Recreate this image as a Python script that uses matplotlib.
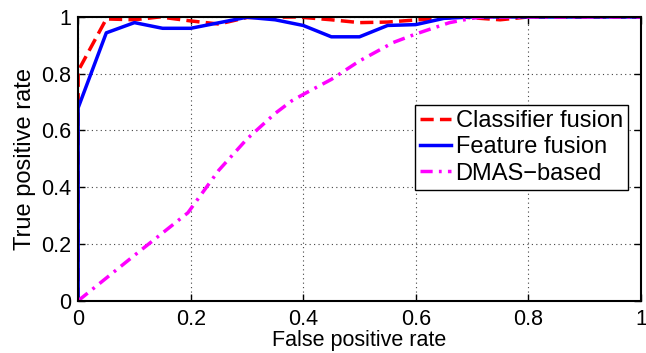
import matplotlib
matplotlib.use("Agg")
import matplotlib.pyplot as plt

# ROC curves
fpr_cls = [0, 0, 0.05, 0.10, 0.145, 0.20, 0.25, 0.30, 0.39, 0.45, 0.50, 0.55, 0.605, 0.68, 0.75, 0.80, 1.0]
tpr_cls = [0, 0.81, 0.993, 0.99, 1.0, 0.986, 0.975, 0.998, 1.0, 0.99, 0.98, 0.982, 0.99, 1.0, 0.99, 1.0, 1.0]

fpr_feat = [0, 0, 0.05, 0.10, 0.15, 0.20, 0.30, 0.35, 0.40, 0.45, 0.50, 0.55, 0.60, 0.65, 0.70, 1.0]
tpr_feat = [0, 0.68, 0.944, 0.98, 0.96, 0.96, 0.999, 0.99, 0.97, 0.93, 0.93, 0.97, 0.973, 0.995, 1.0, 1.0]

fpr_dmas = [0, 0.10, 0.195, 0.25, 0.30, 0.35, 0.38, 0.40, 0.45, 0.50, 0.56, 0.60, 0.66, 0.70, 0.72, 1.0]
tpr_dmas = [0, 0.16, 0.31, 0.46, 0.57, 0.66, 0.705, 0.727, 0.78, 0.845, 0.91, 0.94, 0.98, 0.995, 1.0, 1.0]

ticks = [0, 0.2, 0.4, 0.6, 0.8, 1]
tick_labels = ["0", "0.2", "0.4", "0.6", "0.8", "1"]

plt.rcParams["font.family"] = ["Liberation Sans", "DejaVu Sans"]

fig = plt.figure(figsize=(6.46, 3.53), dpi=100)
ax = fig.add_axes([0.121, 0.148, 0.871, 0.804])

ax.plot(fpr_cls, tpr_cls, color="red", ls=(0, (3.8, 1.8)), lw=2.5, label="Classifier fusion")
ax.plot(fpr_feat, tpr_feat, color="blue", lw=2.5, label="Feature fusion")
ax.plot(fpr_dmas, tpr_dmas, color="magenta", ls=(0, (3.5, 1.8, 0.8, 1.8)), lw=2.5, label="DMAS\u2212based")

ax.set_xlim(0, 1)
ax.set_ylim(0, 1)
ax.set_xticks(ticks)
ax.set_xticklabels(tick_labels)
ax.set_yticks(ticks)
ax.set_yticklabels(tick_labels)
ax.tick_params(direction="in", top=True, right=True, labelsize=15.5, length=5, width=1)
ax.tick_params(axis="x", pad=6)
ax.tick_params(axis="y", pad=5)
ax.grid(True, ls=(0, (1, 3)), color="#444444", lw=0.8)
for s in ax.spines.values():
    s.set_linewidth(1.5)

ax.set_xlabel("False positive rate", fontsize=15.5, labelpad=0)
ax.set_ylabel("True positive rate", fontsize=17, labelpad=4)

leg = ax.legend(loc="upper right", bbox_to_anchor=(0.977, 0.69), fontsize=17,
                fancybox=False, edgecolor="black", framealpha=1,
                handlelength=1.3, handletextpad=0.2, borderpad=0.22,
                labelspacing=0.18, borderaxespad=0)
leg.get_frame().set_linewidth(1.0)

fig.savefig("out.png", dpi=100)
